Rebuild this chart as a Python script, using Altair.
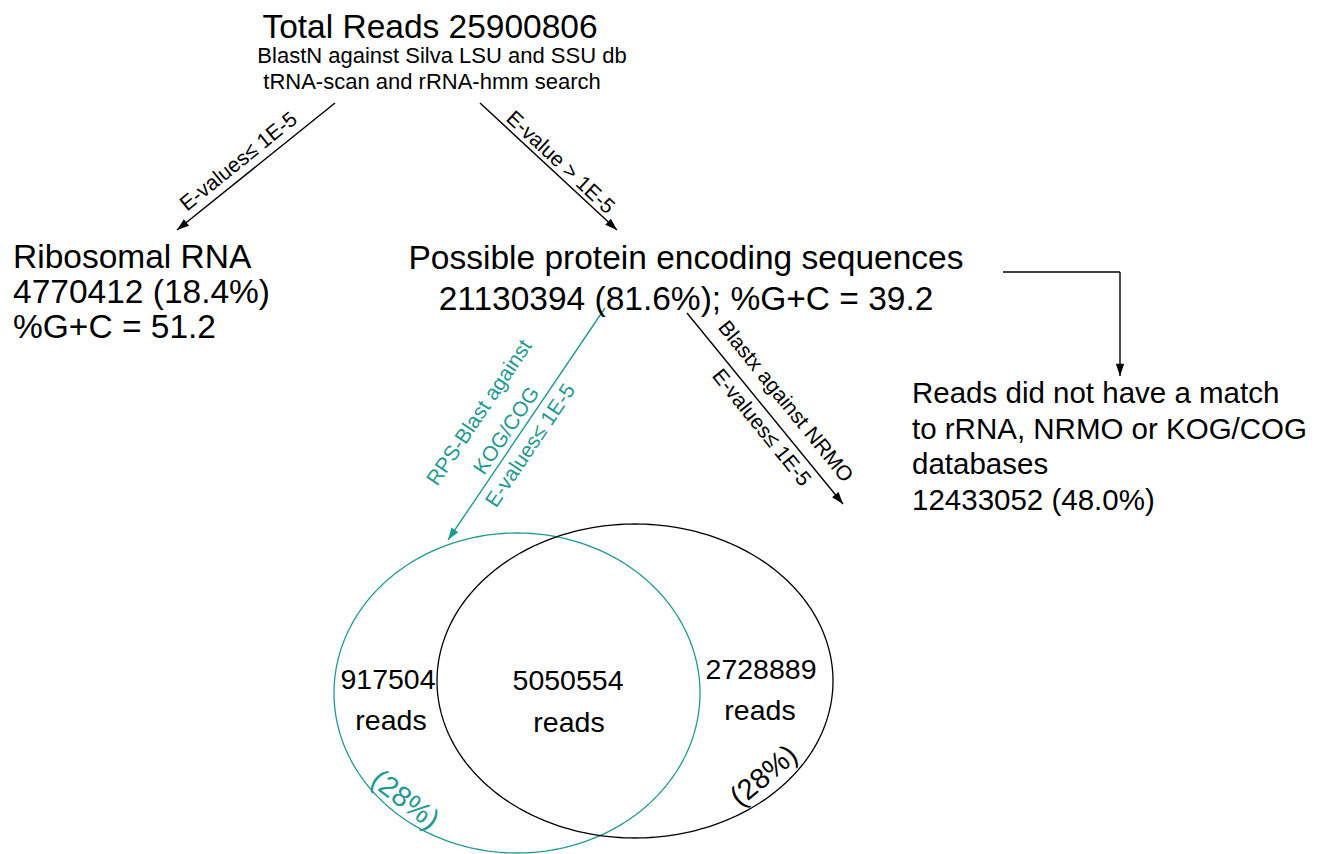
import altair as alt
import numpy as np
import pandas as pd

TEAL = "#1f9a93"
BLACK = "#000000"
FONT = "Liberation Sans"

# ---- text content ----
left_texts = ["Ribosomal RNA", "4770412 (18.4%)", "%G+C = 51.2",
              "Reads did not have a match", " to rRNA, NRMO or KOG/COG", " databases", "12433052 (48.0%)"]
left_x = [13, 13, 13, 912, 912, 912, 912]
left_y = [268, 303, 338, 403, 439, 474, 510]
left_size = [33.5, 33.5, 33.5, 29.5, 29.5, 29.5, 29.5]

center_texts = ["Total Reads 25900806", "BlastN against Silva LSU and SSU db", "tRNA-scan and rRNA-hmm search",
                "Possible protein encoding sequences", "21130394 (81.6%); %G+C = 39.2",
                "917504", "reads", "5050554", "reads", "2728889", "reads"]
center_x = [430, 442, 432, 686, 686, 388, 391, 568, 569, 761, 760]
center_y = [38, 63, 89, 269, 310, 689, 730, 690, 732, 679, 720]
center_size = [33.5, 22, 22, 33.5, 33.5, 28.5, 28.5, 28.5, 28.5, 28.5, 28.5]

rot_texts = ["E-values\u2264 1E-5", "E-value > 1E-5",
             "RPS-Blast against", "KOG/COG", "E-values\u2264 1E-5",
             "Blastx against NRMO", "E-values\u2264 1E-5",
             "(28%)", "(28%)"]
rot_x = [239, 560, 480, 507, 531, 785, 761, 405, 764]
rot_y = [162, 163, 413, 431, 446, 402, 428, 800, 776]
rot_angle = [-39, 43, -56, -56, -56, 51, 51, 38, -40]
rot_size = [21, 21, 21, 21, 21, 21, 21, 29, 29]
rot_color = [BLACK, BLACK, TEAL, TEAL, TEAL, BLACK, BLACK, TEAL, BLACK]

# ---- arrows ----
arr_x1 = [335, 480, 1003, 1120, 605, 687]
arr_y1 = [103, 103, 272, 272, 308, 313]
arr_x2 = [177, 617, 1120, 1120, 448, 843]
arr_y2 = [230, 230, 272, 376, 540, 504]
arr_head = [True, True, False, True, True, True]
arr_color = [BLACK, BLACK, BLACK, BLACK, TEAL, BLACK]

# ---- ellipses ----
ell_cx = [517, 635]
ell_cy = [693, 681]
ell_rx = [183, 198]
ell_ry = [160, 157]
ell_color = [TEAL, BLACK]
ell_name = ["KOG/COG", "NRMO"]

X = dict(scale=alt.Scale(domain=[8, 1308]), axis=None)
Y = dict(scale=alt.Scale(domain=[8, 838], reverse=True), axis=None)

left_df = pd.DataFrame(dict(t=left_texts, x=left_x, y=left_y, s=left_size))
center_df = pd.DataFrame(dict(t=center_texts, x=center_x, y=center_y, s=center_size))
rot_df = pd.DataFrame(dict(t=rot_texts, x=rot_x, y=rot_y, a=[v % 360 for v in rot_angle],
                           s=rot_size, c=rot_color))

arr_df = pd.DataFrame(dict(x1=arr_x1, y1=arr_y1, x2=arr_x2, y2=arr_y2, c=arr_color, h=arr_head))
arr_df["ang"] = (np.degrees(np.arctan2(arr_df.x2 - arr_df.x1, -(arr_df.y2 - arr_df.y1)))) % 360
head_df = arr_df[arr_df.h]

rows = []
theta = np.linspace(0, 2 * np.pi, 241)
for name, cx, cy, rx, ry, col in zip(ell_name, ell_cx, ell_cy, ell_rx, ell_ry, ell_color):
    for i, t in enumerate(theta):
        rows.append(dict(name=name, order=i, x=cx + rx * np.cos(t), y=cy + ry * np.sin(t), c=col))
ell_df = pd.DataFrame(rows)

ellipses = alt.Chart(ell_df).mark_line(strokeWidth=1.3).encode(
    x=alt.X("x:Q", **X), y=alt.Y("y:Q", **Y),
    detail="name:N", order="order:Q",
    color=alt.Color("c:N", scale=None),
)

rules = alt.Chart(arr_df).mark_rule(strokeWidth=1.4).encode(
    x=alt.X("x1:Q", **X), y=alt.Y("y1:Q", **Y), x2="x2:Q", y2="y2:Q",
    color=alt.Color("c:N", scale=None),
)

heads = alt.Chart(head_df).mark_point(
    shape="M0,0L-0.55,1.6L0.55,1.6Z", filled=True, opacity=1, size=230, strokeWidth=0
).encode(
    x=alt.X("x2:Q", **X), y=alt.Y("y2:Q", **Y),
    angle=alt.Angle("ang:Q", scale=None),
    color=alt.Color("c:N", scale=None),
)

left_layer = alt.Chart(left_df).mark_text(align="left", baseline="alphabetic", font=FONT, color=BLACK).encode(
    x=alt.X("x:Q", **X), y=alt.Y("y:Q", **Y), text="t:N", size=alt.Size("s:Q", scale=None),
)

center_layer = alt.Chart(center_df).mark_text(align="center", baseline="alphabetic", font=FONT, color=BLACK).encode(
    x=alt.X("x:Q", **X), y=alt.Y("y:Q", **Y), text="t:N", size=alt.Size("s:Q", scale=None),
)

rot_layer = alt.Chart(rot_df).mark_text(align="center", baseline="middle", font=FONT).encode(
    x=alt.X("x:Q", **X), y=alt.Y("y:Q", **Y), text="t:N", size=alt.Size("s:Q", scale=None),
    angle=alt.Angle("a:Q", scale=None), color=alt.Color("c:N", scale=None),
)

chart = alt.layer(ellipses, rules, heads, left_layer, center_layer, rot_layer).properties(
    width=1300, height=830, padding=0, background="white"
).configure_view(stroke=None)

chart.save("out.html", embed_options={"renderer": "svg", "actions": False})
